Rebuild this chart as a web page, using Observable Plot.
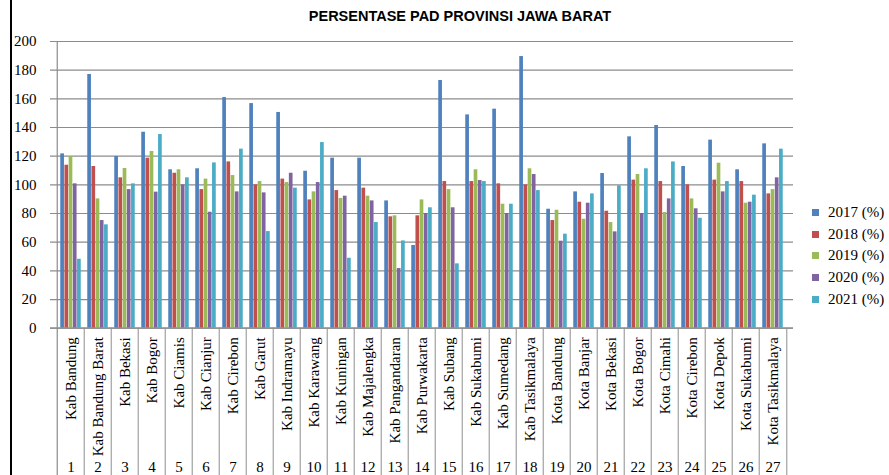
<!DOCTYPE html>
<html><head><meta charset="utf-8">
<script src="https://cdn.jsdelivr.net/npm/d3@7"></script>
<script src="https://cdn.jsdelivr.net/npm/@observablehq/plot@0.6"></script>
<style>
body{margin:0;background:#fff;}
#wrap{position:relative;width:889px;height:475px;overflow:hidden;background:#fff;}
#chart{position:absolute;left:0;top:0;}
#title{position:absolute;left:210px;width:500px;top:8px;text-align:center;font:bold 14.5px "Liberation Sans",Arial,sans-serif;color:#000;}
#legend{position:absolute;left:812px;top:202px;white-space:nowrap;}
#legend, #legend *{font-family:"Liberation Serif",serif !important;font-size:15px !important;color:#000;}
#legend [class$="-swatch"]{height:21.6px;padding:0 !important;margin:0;display:flex;align-items:center;}
#legend svg{margin-right:9px !important;}
#legend > div, #legend [class*="swatches"]{margin:0 !important;}
#border{position:absolute;left:10px;top:0;width:2px;height:475px;background:#000;}
</style></head><body>
<div id="wrap"><div id="chart"></div><div id="title">PERSENTASE PAD PROVINSI JAWA BARAT</div><div id="legend"></div><div id="border"></div></div>
<script>
const categories = ["Kab Bandung","Kab Bandung Barat","Kab Bekasi","Kab Bogor","Kab Ciamis","Kab Cianjur","Kab Cirebon","Kab Garut","Kab Indramayu","Kab Karawang","Kab Kuningan","Kab Majalengka","Kab Pangandaran","Kab Purwakarta","Kab Subang","Kab Sukabumi","Kab Sumedang","Kab Tasikmalaya","Kota Bandung","Kota Banjar","Kota Bekasi","Kota Bogor","Kota Cimahi","Kota Cirebon","Kota Depok","Kota Sukabumi","Kota Tasikmalaya"];
const seriesLabels = ["2017 (%)","2018 (%)","2019 (%)","2020 (%)","2021 (%)"];
const s2017 = [121.6,177,119.8,136.7,110.5,111.2,160.9,156.7,150.5,109.5,118.6,118.6,88.8,57.7,172.8,148.8,152.8,189.5,83,95.1,107.9,133.5,141.4,112.8,131.2,110.5,128.6];
const s2018 = [113.7,112.8,104.9,118.6,108.1,96.7,116,100,104,89.5,96,97.7,77.7,78.4,102.3,102.3,100.7,100,75.1,87.9,81.6,103.3,102.3,100,103.3,102.3,93.7];
const s2019 = [119.8,90.2,111.4,123.3,110.5,104,106.5,102.3,101.6,95.1,90.5,92.1,78.4,89.5,96.7,110.5,86.5,111.2,82.3,76,73.7,107.2,80.7,90.2,115.1,87.2,96.7];
const s2020 = [100.7,75.1,96.7,94.9,100,80.9,95.1,94.4,108.1,101.6,92.1,88.8,41.6,80,84,103,80,107.2,60.7,87.2,67.2,80,90.2,83.3,95.1,87.9,104.9];
const s2021 = [48.1,72.1,100.7,135.1,104.9,115.3,124.9,67.4,97.7,129.5,48.8,73.7,60.9,84,44.9,102.3,86.5,96,65.6,93.7,99.3,111.2,116,76.7,102.3,92.8,124.9];
const yTicks = [0,20,40,60,80,100,120,140,160,180,200];
const colors = ["#4F81BD","#C0504D","#9BBB59","#8064A2","#4BACC6"];

const seriesValues = [s2017,s2018,s2019,s2020,s2021];
const rows = [];
seriesValues.forEach((vals, s) => vals.forEach((v, i) => rows.push({cat: categories[i], series: seriesLabels[s], value: v})));

const W = 889, H = 475, ML = 50, MR = 96, MT = 41, MB = 147.3;
const plotH = H - MT - MB;
const step = (W - ML - MR) / categories.length;
const barW = 4.2;
const groupPad = (step - seriesLabels.length * barW) / 2;

const barMarks = seriesLabels.map((lab, s) => {
  const left = groupPad + s * barW;
  return Plot.barY(rows.filter(r => r.series === lab), {
    x: "cat", y: "value", fill: "series",
    insetLeft: left, insetRight: step - left - barW
  });
});

const chart = Plot.plot({
  width: W, height: H,
  marginLeft: ML, marginRight: MR, marginTop: MT, marginBottom: MB,
  style: {fontFamily: "Liberation Serif, serif", fontSize: "15px", color: "#000", background: "transparent", overflow: "visible"},
  x: {domain: categories, padding: 0},
  y: {domain: [0, 200]},
  color: {domain: seriesLabels, range: colors},
  marks: [
    Plot.gridY({ticks: yTicks, stroke: "#8c8c8c", strokeOpacity: 1, strokeWidth: 1.2}),
    Plot.ruleX([categories[0]], {x: d => d, dx: -step / 2, stroke: "#8c8c8c", strokeWidth: 1.2, insetBottom: -MB}),
    Plot.ruleX(categories.slice(1), {x: d => d, dx: -step / 2, stroke: "#a0a0a0", strokeWidth: 1.2, insetTop: plotH, insetBottom: -MB}),
    Plot.ruleX([categories[categories.length - 1]], {x: d => d, dx: step / 2, stroke: "#a0a0a0", strokeWidth: 1.2, insetTop: plotH, insetBottom: -MB}),
    ...barMarks,
    Plot.ruleY([0], {stroke: "#8c8c8c", strokeWidth: 1.2}),
    Plot.axisY({ticks: yTicks, tickSize: 0, tickPadding: 14, fontSize: 15, label: null}),
    Plot.axisX({tickRotate: -90, tickSize: 0, tickPadding: 9, fontSize: 15, label: null}),
    Plot.axisX({tickSize: 0, tickPadding: 133, fontSize: 15, label: null, tickFormat: d => String(categories.indexOf(d) + 1)})
  ]
});
document.getElementById("chart").appendChild(chart);

const legend = Plot.legend({color: {domain: seriesLabels, range: colors}, legend: "swatches", columns: 1, swatchSize: 7});
document.getElementById("legend").appendChild(legend);
</script>
</body></html>
